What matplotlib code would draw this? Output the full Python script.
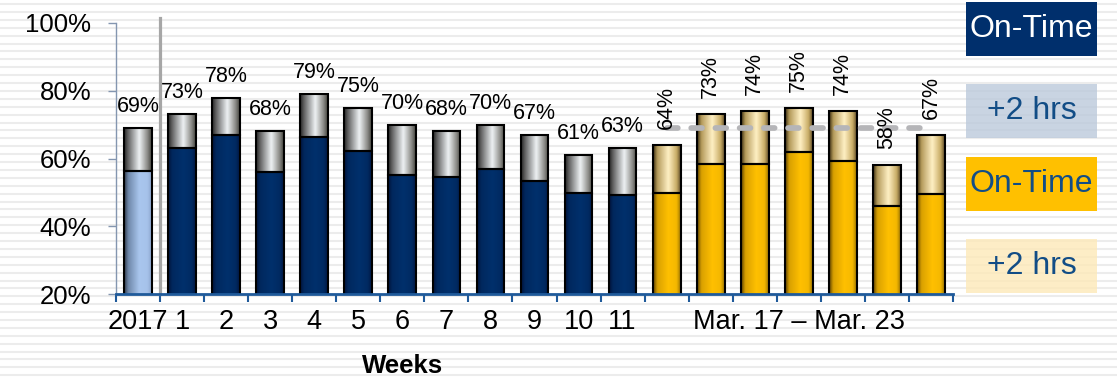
import numpy as np
import matplotlib
matplotlib.use("Agg")
import matplotlib.pyplot as plt
from matplotlib.colors import LinearSegmentedColormap
from matplotlib.patches import Rectangle
from matplotlib.lines import Line2D

plt.rcParams['font.family'] = ['Liberation Sans', 'DejaVu Sans']

# ---- data -------------------------------------------------------------
week_labels = ["2017", "1", "2", "3", "4", "5", "6", "7", "8", "9", "10", "11"]
day_range_label = "Mar. 17 \u2013 Mar. 23"
n_days = 7

# on-time share (%) and share within +2 hrs (%) per period
on_time = [56.3, 63.0, 67.0, 56.0, 66.3, 62.2, 55.0, 54.4, 57.0, 53.5, 49.7, 49.2,
           49.7, 58.3, 58.5, 61.9, 59.2, 46.0, 49.6]
within_2h = [69, 73, 78, 68, 79, 75, 70, 68, 70, 67, 61, 63,
             64, 73, 74, 75, 74, 58, 67]

yticks = [20, 40, 60, 80, 100]

# ---- figure -----------------------------------------------------------
W, H = 1117, 378
fig = plt.figure(figsize=(W / 100, H / 100), dpi=100)
fig.patch.set_facecolor("white")

# faint horizontal background rules
y = 4.0
while y < H:
    fig.add_artist(Line2D([0, 1], [1 - y / H, 1 - y / H], transform=fig.transFigure,
                          color="#ececec", lw=1.5, zorder=-10))
    y += 7.9

ax = fig.add_axes([116 / W, 1 - 294 / H, (953 - 116) / W, (294 - 23) / H])
ax.patch.set_alpha(0)

n = len(within_2h)
x = np.arange(n)
n_weeks = len(week_labels)
bottom_vals = np.array(on_time)
top_vals = np.array(within_2h) - bottom_vals


def cmap(colors):
    return LinearSegmentedColormap.from_list("g", list(zip([0, 0.15, 0.55, 0.85, 1.0], colors)))


cm_gray = cmap(['#262626', '#666666', '#eef2f4', '#8a8a86', '#44443e'])
cm_navy = cmap(['#00133a', '#00285e', '#00306c', '#002a62', '#001845'])
cm_light = cmap(['#2e3848', '#6f88aa', '#a9c6ee', '#a6c2ea', '#8ba5cc'])
cm_gold = cmap(['#5a4000', '#d9a000', '#ffc000', '#f5b800', '#9c7400'])
cm_pale = cmap(['#3a2c10', '#b49a5a', '#fff0c4', '#c9ad66', '#5e4b28'])

bot_cmaps = [cm_light] + [cm_navy] * (n_weeks - 1) + [cm_gold] * n_days
top_cmaps = [cm_gray] * n_weeks + [cm_pale] * n_days

width = 0.63
bars_bot = ax.bar(x, bottom_vals, width, facecolor="none", edgecolor="black", lw=1.5, zorder=3)
bars_top = ax.bar(x, top_vals, width, bottom=bottom_vals, facecolor="none",
                  edgecolor="black", lw=1.5, zorder=3)

grad = np.linspace(0, 1, 64).reshape(1, -1)
for bars, cms in ((bars_bot, bot_cmaps), (bars_top, top_cmaps)):
    for patch, cm in zip(bars, cms):
        x0, y0 = patch.get_x(), patch.get_y()
        im = ax.imshow(grad, cmap=cm, aspect="auto", interpolation="bicubic",
                       extent=(x0, x0 + patch.get_width(), y0, y0 + patch.get_height()),
                       zorder=2)
        # clip to the bar outline while keeping the axes clip box
        im.set_clip_path(patch.get_path(), patch.get_transform())

# value labels
for i, v in enumerate(within_2h):
    if i < n_weeks:
        ax.annotate(f"{v}%", (i, v), xytext=(0, 11.5), textcoords="offset points",
                    ha="center", va="baseline", fontsize=15.5, zorder=5)
    else:
        ax.annotate(f"{v}%", (i, v), xytext=(0, 11.5), textcoords="offset points",
                    ha="center", va="bottom", rotation=90, fontsize=15.5, zorder=5)

# reference level: 2017 within-2h share across the daily bars
ax.plot(x[n_weeks:], [within_2h[0]] * n_days, color="#b5b5b8", lw=4.1,
        ls=(0, (1.9, 2.35)), dash_capstyle="round", zorder=4)

# separator between the yearly figure and the weekly figures
ax.axvline(0.5, ymin=0, ymax=1.018, color="#a6a6a6", lw=2.3, clip_on=False, zorder=4)

ax.set_xlim(-0.5, n - 0.5)
ax.set_ylim(20, 100)

for s in ("top", "right"):
    ax.spines[s].set_visible(False)
ax.spines["left"].set_color("#8496b0")
ax.spines["left"].set_linewidth(1.0)
ax.spines["bottom"].set_color("#1f5a9a")
ax.spines["bottom"].set_linewidth(2.0)
ax.spines["bottom"].set_zorder(6)

ax.set_yticks(yticks)
ax.set_yticklabels([f"{t}%" for t in yticks])
ax.tick_params(axis="y", direction="out", length=5.8, width=1.0, color="#8496b0",
               labelsize=18.5, pad=12)

ax.set_xticks(np.arange(-0.5, n, 1.0))
ax.set_xticklabels([])
ax.tick_params(axis="x", which="major", direction="out", length=5.5, width=1.5,
               color="#1f5a9a")
label_pos = list(range(n_weeks)) + [n_weeks + (n_days - 1) / 2]
ax.set_xticks(label_pos, minor=True)
ax.set_xticklabels(week_labels + [day_range_label], minor=True)
ax.tick_params(axis="x", which="minor", length=0, labelsize=19.5, pad=10.5)

fig.text(403 / W, 1 - 366 / H, "Weeks", ha="center", va="center",
         fontsize=18.5, fontweight="bold")

# legend boxes
legend_items = [
    ("On-Time", "#002f6c", "white", 1.0, 2, 56),
    ("+2 hrs", "#bccadb", "#124d86", 0.8, 84, 138),
    ("On-Time", "#ffc000", "#124d86", 1.0, 157, 211),
    ("+2 hrs", "#fde9b8", "#124d86", 0.8, 239, 293),
]
bx0, bx1 = 966, 1097
for text, fc, tc, alpha, yt, yb in legend_items:
    fig.add_artist(Rectangle((bx0 / W, 1 - yb / H), (bx1 - bx0) / W, (yb - yt) / H,
                             transform=fig.transFigure, facecolor=fc, alpha=alpha,
                             edgecolor="none", zorder=1))
    fig.text((bx0 + bx1) / 2 / W, 1 - (yt + yb) / 2 / H, text, ha="center", va="center",
             fontsize=23, color=tc, zorder=2)

fig.savefig("out.png", dpi=100, facecolor="white")
